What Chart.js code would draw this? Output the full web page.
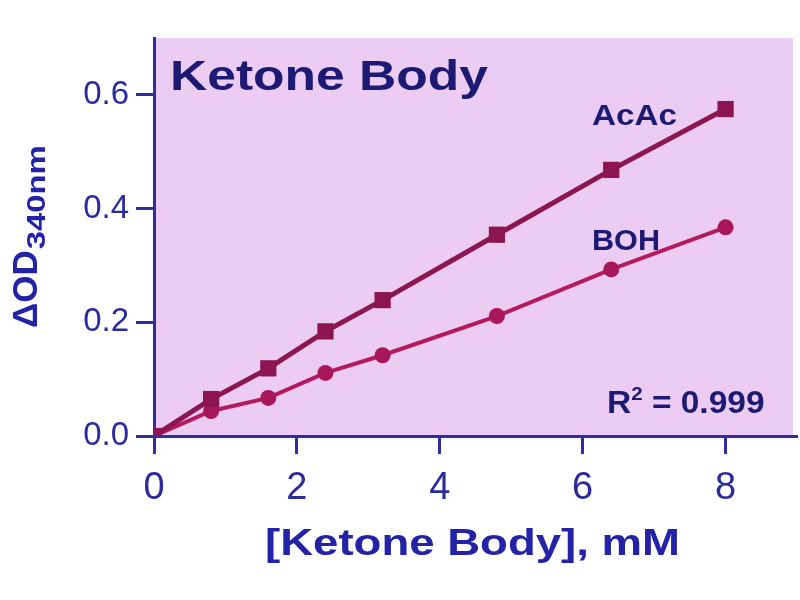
<!DOCTYPE html>
<html>
<head>
<meta charset="utf-8">
<script src="https://cdn.jsdelivr.net/npm/chart.js@4"></script>
<style>
  html, body { margin: 0; padding: 0; background: #ffffff; }
  #wrap { width: 800px; height: 600px; }
</style>
</head>
<body>
<div id="wrap"><canvas id="chart" width="800" height="600"></canvas></div>
<script>
// Concentraciones (mM) y lecturas de absorbancia
const concentraciones = [0, 0.8, 1.6, 2.4, 3.2, 4.8, 6.4, 8];
const acacValores = [0, 0.065, 0.119, 0.184, 0.239, 0.354, 0.468, 0.575];
const bohValores = [0, 0.044, 0.067, 0.111, 0.142, 0.211, 0.293, 0.367];
const xTicks = [0, 2, 4, 6, 8];
const yTicks = [0, 0.2, 0.4, 0.6];

const FONT = '"Liberation Sans", Arial, Helvetica, sans-serif';
const AXIS_COLOR = '#2e2ea0';
const LABEL_COLOR = '#2b2b9c';
const NAVY = '#1c1a72';
const BLUE = '#2323a8';

function puntos(valores) {
    return concentraciones.map((c, i) => ({ x: c, y: valores[i] }));
}

// Texto con ancho ajustado (estira horizontalmente si hace falta)
function drawText(ctx, text, x, y, font, color, width) {
    ctx.save();
    ctx.font = font;
    ctx.fillStyle = color;
    ctx.textBaseline = 'alphabetic';
    ctx.textAlign = 'left';
    const w = ctx.measureText(text).width;
    ctx.translate(x, y);
    if (width) ctx.scale(width / w, 1);
    ctx.fillText(text, 0, 0);
    ctx.restore();
}

const fondoPlugin = {
    id: 'fondo',
    beforeDraw(chart) {
        const { ctx, chartArea } = chart;
        ctx.save();
        ctx.fillStyle = '#ecccf3';
        ctx.fillRect(chartArea.left, chartArea.top, chartArea.right - chartArea.left - 4, chartArea.bottom - chartArea.top);
        ctx.restore();
    }
};

const textosPlugin = {
    id: 'textos',
    afterDraw(chart) {
        const ctx = chart.ctx;
        drawText(ctx, 'Ketone Body', 170, 90, 'bold 42px ' + FONT, NAVY, 318);
        drawText(ctx, 'AcAc', 592, 125, 'bold 29px ' + FONT, NAVY, 85);
        drawText(ctx, 'BOH', 592, 250, 'bold 29px ' + FONT, NAVY, 68);

        // R² = 0.999
        ctx.save();
        ctx.fillStyle = NAVY;
        ctx.translate(607, 413);
        ctx.scale(1.08, 1);
        ctx.font = 'bold 31px ' + FONT;
        ctx.fillText('R', 0, 0);
        let x = ctx.measureText('R').width;
        ctx.font = 'bold 19px ' + FONT;
        ctx.fillText('2', x, -13);
        x += ctx.measureText('2').width;
        ctx.font = 'bold 31px ' + FONT;
        ctx.fillText(' = 0.999', x, 0);
        ctx.restore();

        // Título eje X
        drawText(ctx, '[Ketone Body], mM', 265, 555, 'bold 37px ' + FONT, BLUE, 415);

        // Título eje Y con subíndice
        ctx.save();
        ctx.fillStyle = BLUE;
        ctx.translate(37, 328);
        ctx.rotate(-Math.PI / 2);
        ctx.font = 'bold 35px ' + FONT;
        ctx.fillText('\u0394OD', 0, 0);
        const mw = ctx.measureText('\u0394OD').width;
        ctx.translate(mw + 1, 8);
        ctx.font = 'bold 25px ' + FONT;
        const sw = ctx.measureText('340nm').width;
        ctx.scale(104 / sw, 1);
        ctx.fillText('340nm', 0, 0);
        ctx.restore();
    }
};

const ctx = document.getElementById('chart').getContext('2d');
new Chart(ctx, {
    type: 'scatter',
    data: {
        datasets: [
            {
                label: 'AcAc',
                data: puntos(acacValores),
                showLine: true,
                borderColor: '#8c1652',
                backgroundColor: '#8c1652',
                borderWidth: 5,
                pointStyle: 'rect',
                pointRadius: 11.5,
                pointBorderWidth: 0
            },
            {
                label: 'BOH',
                data: puntos(bohValores),
                showLine: true,
                borderColor: '#b5195e',
                backgroundColor: '#a8175a',
                borderWidth: 4,
                pointStyle: 'circle',
                pointRadius: 8,
                pointBorderWidth: 0
            }
        ]
    },
    options: {
        responsive: false,
        animation: false,
        layout: { autoPadding: false, padding: { top: 38, right: 3, left: 0, bottom: 0 } },
        plugins: {
            legend: { display: false },
            title: { display: false },
            tooltip: { enabled: false }
        },
        scales: {
            x: {
                type: 'linear',
                min: 0,
                max: 9,
                z: 1,
                afterFit: s => { s.height = 164; s.paddingLeft = 0; s.paddingRight = 0; },
                afterBuildTicks: s => { s.ticks = xTicks.map(v => ({ value: v })); },
                border: { display: true, color: AXIS_COLOR, width: 3 },
                grid: { drawOnChartArea: false, drawTicks: true, tickLength: 18, tickWidth: 3, tickColor: AXIS_COLOR },
                ticks: {
                    color: LABEL_COLOR,
                    font: { family: FONT, size: 38 },
                    padding: 12,
                    maxRotation: 0,
                    callback: v => String(v)
                }
            },
            y: {
                type: 'linear',
                min: 0,
                max: 0.7,
                z: 1,
                afterFit: s => { s.width = 154; s.paddingTop = 0; s.paddingBottom = 0; },
                afterBuildTicks: s => { s.ticks = yTicks.map(v => ({ value: v })); },
                border: { display: true, color: AXIS_COLOR, width: 3 },
                grid: { drawOnChartArea: false, drawTicks: true, tickLength: 18, tickWidth: 3, tickColor: AXIS_COLOR },
                ticks: {
                    color: LABEL_COLOR,
                    font: { family: FONT, size: 33 },
                    padding: 7,
                    callback: v => v.toFixed(1)
                }
            }
        }
    },
    plugins: [fondoPlugin, textosPlugin]
});
</script>
</body>
</html>
